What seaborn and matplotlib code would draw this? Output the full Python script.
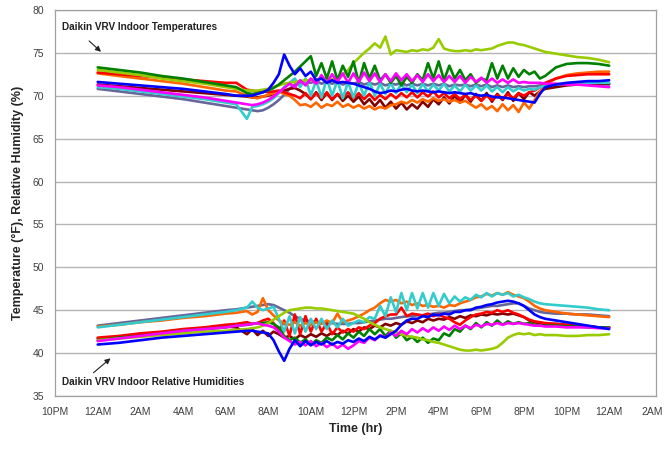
import matplotlib
matplotlib.use("Agg")
import matplotlib.pyplot as plt
import pandas as pd
import seaborn as sns

# ------------------------------------------------------------
# Data: Daikin VRV indoor temperatures (°F) and RH (%)
# time grid: 0..6.5 hourly-ish, 7..21 every 15 min, 21.5..24
# ------------------------------------------------------------
hours = [0, 1, 2, 3, 4, 5, 6, 6.5] + [7 + 0.25 * i for i in range(57)] + [21.5, 22, 22.5, 23, 23.5, 24]

x_ticks = list(range(-2, 27, 2))
x_labels = ["10PM", "12AM", "2AM", "4AM", "6AM", "8AM", "10AM", "12PM", "2PM",
            "4PM", "6PM", "8PM", "10PM", "12AM", "2AM"]

# --- temperatures ---
t_gray = [70.8, 70.5, 70.2, 69.9, 69.6, 69.2, 68.8, 68.6,
          68.4, 68.3, 68.2, 68.3, 68.6, 69.0, 69.5, 70.1,
          70.8, 71.3, 71.5, 71.6, 71.5, 71.7, 71.4, 71.6,
          71.4, 71.6, 71.3, 71.5, 71.4, 71.6, 71.3, 71.5,
          71.3, 71.5, 71.2, 71.4, 71.3, 71.5, 71.2, 71.4,
          71.2, 71.4, 71.2, 71.4, 71.2, 71.4, 71.1, 71.3,
          71.2, 71.3, 71.1, 71.3, 71.1, 71.3, 71.0, 71.2,
          71.0, 71.2, 71.0, 71.1, 71.0, 71.1, 71.1, 71.2,
          71.2, 71.2, 71.3, 71.3, 71.3, 71.3, 71.3]
t_maroon = [71.3, 71.1, 70.9, 70.7, 70.5, 70.3, 70.1, 70.0,
            69.9, 69.8, 69.8, 69.9, 70.0, 70.2, 70.4, 70.6,
            70.8, 70.9, 70.6, 70.2, 69.6, 70.4, 69.5, 70.3,
            69.5, 70.2, 69.4, 70.0, 69.3, 69.9, 69.0, 69.6,
            68.8, 69.5, 68.6, 69.3, 68.5, 69.2, 68.4, 69.0,
            68.5, 69.3, 68.7, 69.6, 69.0, 69.8, 69.1, 70.0,
            69.2, 70.1, 69.3, 70.2, 69.4, 70.3, 69.3, 70.2,
            69.5, 70.4, 69.4, 70.3, 69.6, 70.4, 70.0, 70.5,
            70.8, 71.0, 71.2, 71.3, 71.3, 71.4, 71.4]
t_orange = [72.6, 72.3, 72.0, 71.7, 71.4, 71.0, 70.6, 70.5,
            70.0, 69.8, 69.7, 69.9, 70.1, 70.3, 70.5, 70.2,
            70.0, 69.5, 68.9, 69.0, 68.7, 69.2, 68.6, 69.0,
            68.8, 69.3, 68.7, 69.0, 68.6, 68.9, 68.5, 68.8,
            68.4, 68.7, 68.5, 68.9, 69.0, 69.3, 69.1, 69.5,
            69.2, 69.6, 69.3, 69.7, 69.4, 69.6, 69.3, 69.5,
            69.2, 69.4, 69.0, 68.6, 69.0, 68.4, 68.8, 68.2,
            69.0, 68.3, 68.9, 68.1, 69.2, 68.5, 69.5, 70.5,
            71.3, 72.0, 72.4, 72.6, 72.7, 72.8, 72.8]
t_red = [72.7, 72.5, 72.3, 72.1, 71.9, 71.7, 71.5, 71.5,
         70.7, 70.6, 70.5, 70.5, 70.4, 70.5, 70.6, 70.4,
         70.2, 70.0, 69.7, 70.3, 69.6, 70.3, 69.7, 70.4,
         69.6, 70.2, 69.8, 70.4, 69.7, 70.3, 69.6, 70.2,
         69.5, 70.1, 69.6, 70.2, 69.7, 70.3, 69.8, 70.4,
         69.8, 70.4, 69.9, 70.5, 69.8, 70.3, 69.7, 70.2,
         69.6, 70.1, 69.5, 70.0, 69.4, 70.0, 69.5, 70.1,
         69.6, 70.2, 69.7, 70.3, 70.0, 70.4, 70.6, 71.0,
         71.5, 72.0, 72.3, 72.4, 72.5, 72.5, 72.5]
t_cyan = [71.0, 70.8, 70.5, 70.2, 69.9, 69.6, 69.2, 69.0,
          67.3, 68.7, 68.8, 69.0, 69.3, 69.7, 70.3, 71.0,
          71.5, 72.0, 71.0, 72.0, 70.0, 71.8, 69.8, 72.0,
          70.0, 71.8, 69.7, 71.6, 69.8, 71.5, 70.0, 71.6,
          70.0, 71.4, 70.2, 71.5, 70.3, 71.4, 70.4, 71.3,
          70.3, 71.4, 70.5, 71.3, 70.6, 71.4, 70.5, 71.2,
          70.5, 71.3, 70.6, 71.2, 70.6, 71.2, 70.5, 71.0,
          70.4, 71.0, 70.5, 70.9, 70.6, 70.8, 70.7, 71.0,
          71.2, 71.3, 71.4, 71.4, 71.5, 71.5, 71.5]
t_yg = [73.0, 72.7, 72.4, 72.0, 71.7, 71.4, 71.0, 70.8,
        70.6, 70.6, 70.6, 70.7, 70.8, 71.0, 71.2, 71.4,
        71.5, 71.6, 71.7, 71.8, 71.8, 71.9, 72.0, 72.0,
        71.9, 72.1, 72.4, 73.0, 73.8, 74.4, 75.0, 75.5,
        76.1, 75.6, 76.9, 74.8, 75.3, 75.2, 75.1, 75.3,
        75.2, 75.4, 75.3, 75.6, 76.6, 75.5, 75.3, 75.2,
        75.2, 75.3, 75.2, 75.4, 75.3, 75.4, 75.5, 75.8,
        76.0, 76.2, 76.2, 76.0, 75.9, 75.7, 75.5, 75.3,
        75.1, 74.9, 74.7, 74.5, 74.4, 74.2, 73.9]
t_green = [73.3, 73.0, 72.7, 72.3, 72.0, 71.6, 71.2, 71.0,
           70.3, 70.2, 70.3, 70.4, 70.6, 70.9, 71.3, 71.8,
           72.3, 72.8, 73.4, 74.0, 74.6, 72.3, 73.8, 72.0,
           74.0, 71.8, 73.5, 72.2, 74.0, 71.5, 73.8, 72.0,
           73.5, 71.8, 72.5, 71.5, 72.3, 71.2, 72.2, 71.5,
           72.5, 71.8, 73.8, 72.0, 74.0, 71.8, 73.5, 72.0,
           73.0, 71.8, 72.5, 71.5, 72.0, 71.8, 73.8, 72.0,
           73.5, 72.0, 73.2, 72.2, 73.0, 72.5, 72.8, 72.0,
           72.3, 73.3, 73.7, 73.8, 73.8, 73.7, 73.5]
t_magenta = [71.2, 71.0, 70.7, 70.4, 70.1, 69.8, 69.4, 69.2,
             69.0, 68.9, 69.0, 69.2, 69.5, 69.9, 70.4, 70.9,
             71.4, 71.0, 71.8, 71.2, 72.0, 71.4, 72.4, 71.5,
             72.5, 71.6, 72.6, 71.5, 72.6, 71.6, 72.7, 71.7,
             72.6, 71.6, 72.5, 71.7, 72.6, 71.8, 72.5, 71.7,
             72.4, 71.6, 72.5, 71.7, 72.4, 71.6, 72.3, 71.6,
             72.3, 71.5, 72.2, 71.6, 72.1, 71.5, 72.0, 71.5,
             71.9, 71.5, 71.9, 71.5, 71.6, 71.5, 71.5, 71.5,
             71.4, 71.4, 71.3, 71.3, 71.2, 71.1, 71.0]
t_blue = [71.6, 71.4, 71.2, 71.0, 70.8, 70.5, 70.2, 70.0,
          70.0, 70.0, 70.2, 70.4, 70.7, 71.5, 72.5, 74.8,
          73.5, 72.5, 73.2, 72.3, 72.8, 71.8, 72.0, 71.5,
          71.8, 71.5, 71.6, 71.5, 71.4, 71.2, 71.0, 70.8,
          70.5, 70.3, 70.4, 70.6, 70.5, 70.7, 70.8, 70.6,
          70.5, 70.6, 70.5, 70.4, 70.5, 70.4, 70.3, 70.4,
          70.3, 70.2, 70.3, 70.1, 70.0, 70.1, 69.9, 69.8,
          69.8, 69.7, 69.6, 69.5, 69.4, 69.3, 69.2, 70.2,
          71.0, 71.3, 71.5, 71.6, 71.7, 71.7, 71.8]

# --- relative humidities ---
rh_gray = [43.2, 43.5, 43.8, 44.1, 44.4, 44.7, 45.0, 45.1,
           45.3, 45.4, 45.5, 45.6, 45.7, 45.6, 45.3, 45.0,
           44.7, 44.3, 44.0, 43.8, 43.7, 43.6, 43.6, 43.5,
           43.5, 43.4, 43.4, 43.4, 43.5, 43.5, 43.6, 43.7,
           43.8, 43.9, 44.0, 44.0, 44.1, 44.2, 44.3, 44.3,
           44.4, 44.4, 44.5, 44.6, 44.7, 44.7, 44.8, 44.9,
           45.0, 45.0, 45.1, 45.2, 45.3, 45.4, 45.5, 45.5,
           45.6, 45.7, 45.8, 45.8, 45.5, 45.2, 45.0, 44.8,
           44.7, 44.6, 44.6, 44.5, 44.5, 44.4, 44.3]
rh_maroon = [41.7, 41.9, 42.2, 42.4, 42.7, 42.9, 43.1, 43.0,
             42.2, 42.8, 42.1, 42.6, 42.0, 42.5, 42.2, 41.8,
             42.0, 41.6, 42.1, 41.8, 42.2, 41.9, 42.3, 42.0,
             42.4, 42.1, 42.6, 42.3, 42.8, 42.5, 43.0, 42.8,
             43.2, 43.0, 43.4, 43.2, 43.5, 43.3, 43.7, 43.5,
             43.8, 43.6, 44.0, 43.8, 44.0, 43.9, 44.2, 44.0,
             44.3, 44.1, 44.4, 44.3, 44.5, 44.4, 44.6, 44.5,
             44.6, 44.5, 44.6, 44.4, 44.2, 43.8, 43.6, 43.5,
             43.4, 43.4, 43.3, 43.2, 43.1, 43.0, 43.0]
rh_red = [41.8, 42.0, 42.3, 42.5, 42.8, 43.0, 43.3, 43.4,
          43.6, 43.4, 43.5, 43.8, 44.0, 43.5, 42.5, 43.8,
          42.0, 44.5, 42.2, 44.3, 42.5, 44.0, 42.5, 43.5,
          42.2, 43.0, 42.4, 42.8, 42.5, 43.0, 42.8, 43.2,
          43.5, 44.0, 44.3, 44.5, 44.5, 45.3, 44.3, 44.6,
          44.5, 44.4, 44.6, 44.3, 44.5, 44.2, 44.0, 43.6,
          43.3, 43.8, 44.2, 44.5, 44.6, 44.8, 44.7, 45.0,
          44.8, 45.0, 44.7, 44.5, 44.2, 43.9, 43.7, 43.6,
          43.5, 43.4, 43.3, 43.2, 43.1, 43.0, 43.0]
rh_orange = [43.1, 43.3, 43.6, 43.8, 44.1, 44.3, 44.6, 44.7,
             44.9, 44.5, 44.8, 46.4, 45.0, 44.4, 43.8, 43.5,
             43.3, 43.6, 43.2, 43.5, 43.3, 43.6, 43.4, 43.8,
             43.5, 44.6, 43.6, 43.8, 44.0, 44.3, 44.6, 45.0,
             45.3, 45.8, 46.2, 46.0, 46.2, 45.8, 46.0, 45.6,
             45.8, 45.5, 45.6, 45.4, 45.5, 45.3, 45.6, 45.5,
             45.8, 46.0, 46.2, 46.5, 46.6, 46.9, 46.7, 47.0,
             46.8, 47.1, 46.8, 46.6, 46.4, 46.0, 45.5, 45.2,
             45.0, 44.8, 44.6, 44.5, 44.4, 44.3, 44.2]
rh_cyan = [43.0, 43.3, 43.6, 43.9, 44.2, 44.5, 44.8, 45.0,
           45.3, 46.0, 45.3, 45.0, 45.2, 45.4, 44.0, 42.5,
           44.3, 42.3, 44.2, 42.5, 44.0, 42.8, 44.0, 42.8,
           43.8, 43.0, 44.0, 43.2, 43.5, 43.8, 43.6, 44.2,
           44.0, 45.5, 44.3, 46.5, 44.8, 47.0, 45.0, 47.0,
           45.2, 47.0, 45.3, 47.0, 45.5, 46.9, 45.8, 46.6,
           46.0, 46.5, 46.2, 46.8, 46.5, 47.0, 46.6, 47.0,
           46.8, 47.0, 46.6, 46.8, 46.5, 46.3, 46.0, 45.8,
           45.7, 45.6, 45.5, 45.4, 45.3, 45.1, 45.0]
rh_green = [41.5, 41.8, 42.0, 42.3, 42.6, 42.8, 43.0, 43.2,
            43.3, 43.4, 43.5, 43.5, 43.6, 43.4, 43.0, 42.0,
            41.5, 41.8, 41.2, 41.6, 41.0, 41.5, 41.2, 41.8,
            41.5, 42.1, 41.6, 42.3, 41.8, 42.5, 42.0, 42.8,
            42.2, 42.8, 42.0, 42.6, 41.8, 42.3, 41.5, 41.9,
            41.3, 41.8, 41.2, 41.7, 41.5, 42.3, 42.0, 42.8,
            42.5, 43.2, 42.8, 43.5, 43.0, 43.6, 43.2, 43.8,
            43.3, 43.7, 43.4, 43.6, 43.4, 43.5, 43.3, 43.2,
            43.2, 43.2, 43.1, 43.1, 43.0, 43.0, 43.0]
rh_yg = [41.5, 41.7, 41.9, 42.1, 42.3, 42.5, 42.6, 42.7,
         42.8, 42.9, 43.0, 43.2, 43.5, 43.9, 44.3, 44.7,
         45.0, 45.1, 45.2, 45.3, 45.3, 45.2, 45.2, 45.1,
         45.0, 44.9, 44.8, 44.7, 44.6, 44.3, 44.0, 43.6,
         43.3, 43.0, 42.8, 42.6, 42.4, 42.2, 42.0, 41.9,
         41.8, 41.6, 41.5, 41.3, 41.2, 41.0, 40.8, 40.6,
         40.4, 40.3, 40.3, 40.4, 40.3, 40.4, 40.5, 40.7,
         41.2, 41.8, 42.1, 42.3, 42.2, 42.3, 42.1, 42.2,
         42.1, 42.1, 42.0, 42.0, 42.1, 42.1, 42.2]
rh_magenta = [41.4, 41.7, 42.0, 42.3, 42.6, 42.8, 43.0, 43.2,
              43.3, 43.4, 43.5, 43.3, 43.2, 43.0, 42.5, 41.8,
              41.4, 41.0, 41.3, 40.9, 41.4, 40.8, 41.2, 40.7,
              41.1, 40.6, 41.0, 40.5, 40.9, 41.4, 41.2, 41.8,
              41.5, 42.1, 41.8, 42.4, 42.0, 42.6, 42.2, 42.8,
              42.4, 42.9, 42.5, 43.0, 42.6, 43.1, 42.7, 43.2,
              42.8, 43.2, 42.9, 43.3, 43.1, 43.4, 43.3, 43.5,
              43.3, 43.5, 43.4, 43.5, 43.4, 43.3, 43.2, 43.2,
              43.1, 43.1, 43.0, 43.0, 43.0, 42.9, 42.9]
rh_blue = [41.0, 41.2, 41.5, 41.8, 42.0, 42.2, 42.4, 42.5,
           42.6, 42.6, 42.5, 42.4, 42.3, 41.5, 40.2, 39.1,
           40.5, 41.5, 40.8, 41.4, 40.9, 41.3, 41.0, 41.4,
           41.0, 41.3, 41.1, 41.5, 41.3, 41.7, 41.4, 41.9,
           41.6, 42.0, 41.8, 42.2, 42.6, 43.3, 43.8, 44.0,
           44.0, 44.3, 44.2, 44.5, 44.4, 44.6, 44.5, 44.8,
           44.8, 45.0, 45.0, 45.3, 45.4, 45.6, 45.7, 45.9,
           46.0, 46.1, 46.0, 45.8, 45.5, 45.0, 44.5, 44.2,
           44.0, 43.8, 43.6, 43.4, 43.2, 43.0, 42.8]

# Excel-like colours, drawing order = list order (last on top)
series = [
    ("T gray", "#666699", t_gray), ("T maroon", "#800000", t_maroon),
    ("T orange", "#FF6600", t_orange), ("T red", "#FF0000", t_red),
    ("T cyan", "#33CCCC", t_cyan), ("T yg", "#99CC00", t_yg),
    ("T green", "#008000", t_green), ("T magenta", "#FF00FF", t_magenta),
    ("T blue", "#0000FF", t_blue),
    ("RH gray", "#666699", rh_gray), ("RH maroon", "#800000", rh_maroon),
    ("RH red", "#FF0000", rh_red), ("RH orange", "#FF6600", rh_orange),
    ("RH cyan", "#33CCCC", rh_cyan), ("RH green", "#008000", rh_green),
    ("RH yg", "#99CC00", rh_yg), ("RH magenta", "#FF00FF", rh_magenta),
    ("RH blue", "#0000FF", rh_blue),
]

frames = []
for name, color, vals in series:
    frames.append(pd.DataFrame({"hour": hours, "value": vals, "series": name}))
df = pd.concat(frames, ignore_index=True)
palette = {name: color for name, color, _ in series}
order = [name for name, _, _ in series]

# ------------------------------------------------------------
# Plot
# ------------------------------------------------------------
sns.set_style("white")
plt.rcParams["font.family"] = ["Liberation Sans", "DejaVu Sans"]

fig, ax = plt.subplots(figsize=(6.64, 4.5), dpi=100)
fig.subplots_adjust(left=0.083, right=0.988, top=0.978, bottom=0.12)

for name in order:
    sub = df[df["series"] == name]
    sns.lineplot(data=sub, x="hour", y="value", color=palette[name],
                 estimator=None, sort=False, linewidth=1.9, ax=ax)

ax.set_xlim(-2, 26.2)
ax.set_ylim(35, 80)
ax.set_xticks(x_ticks)
ax.set_xticklabels(x_labels)
ax.set_yticks(range(35, 81, 5))
ax.yaxis.grid(True, color="#b5b5b5", linewidth=1)
ax.xaxis.grid(False)
ax.set_axisbelow(True)
for sp in ax.spines.values():
    sp.set_color("#a0a0a0")
    sp.set_linewidth(0.9)
ax.tick_params(axis="x", direction="out", length=3, color="#a0a0a0",
               labelsize=7.5, labelcolor="#404040", pad=5)
ax.tick_params(axis="y", length=0, labelsize=7.5, labelcolor="#404040", pad=8)

ax.set_xlabel("Time (hr)", fontsize=9, fontweight="bold", labelpad=4)
ax.set_ylabel("Temperature (°F), Relative Humidity (%)", fontsize=9,
              fontweight="bold", labelpad=6)

ax.text(-1.7, 78.0, "Daikin VRV Indoor Temperatures", fontsize=7.2,
        fontweight="bold", va="center", ha="left", color="#222222")
ax.annotate("", xy=(0.25, 74.9), xytext=(-0.5, 76.6),
            arrowprops=dict(arrowstyle="-|>", color="#222222", lw=0.8,
                            mutation_scale=8))
ax.text(-1.7, 36.6, "Daikin VRV Indoor Relative Humidities", fontsize=7.2,
        fontweight="bold", va="center", ha="left", color="#222222")
ax.annotate("", xy=(0.7, 39.6), xytext=(-0.3, 37.5),
            arrowprops=dict(arrowstyle="-|>", color="#222222", lw=0.8,
                            mutation_scale=8))

fig.savefig("out.png", dpi=100)
